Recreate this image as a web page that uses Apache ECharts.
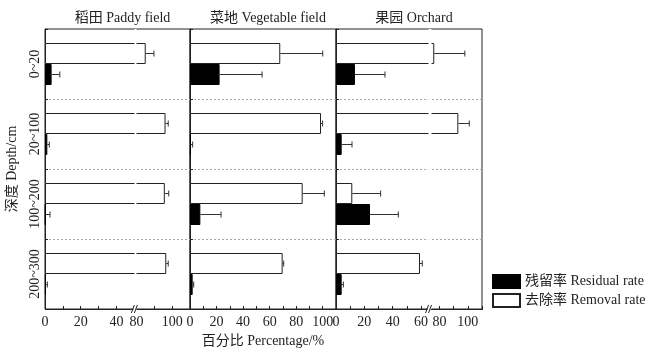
<!DOCTYPE html>
<html>
<head>
<meta charset="utf-8">
<script src="https://cdn.jsdelivr.net/npm/echarts@6/dist/echarts.min.js"></script>
<style>
  html, body { margin: 0; padding: 0; background: #fff; }
  #chart { width: 651px; height: 352px; }
</style>
</head>
<body>
<div id="chart"></div>
<script>
var depths = ['0~20', '20~100', '100~200', '200~300'];
var panelTitles = ['稻田 Paddy field', '菜地 Vegetable field', '果园 Orchard'];

// removal / residual rate (%) and their errors, per depth
var paddyRemoval = [85.2, 96.3, 95.9, 96.7];
var paddyRemovalErr = [4.6, 1.5, 2.2, 1.1];
var paddyResidual = [3.7, 1.3, 0.3, 0.5];
var paddyResidualErr = [4.6, 1.1, 2.5, 0.8];

var vegRemoval = [68.0, 98.7, 84.9, 69.8];
var vegRemovalErr = [32.0, 1.2, 16.3, 0.8];
var vegResidual = [22.3, 0.7, 7.8, 2.0];
var vegResidualErr = [32.0, 1.3, 15.6, 0.8];

var orchRemoval = [76.3, 93.3, 11.5, 59.3];
var orchRemovalErr = [21.6, 7.7, 20.0, 1.6];
var orchResidual = [13.4, 4.0, 24.0, 4.0];
var orchResidualErr = [21.2, 7.3, 20.0, 1.2];

// x axis ticks and labels of each panel
var paddyTicks = [0, 10, 20, 30, 40, 90, 100, 110];
var paddyLabels = [0, 20, 40, 80, 100];
var vegTicks = [0, 10, 20, 30, 40, 50, 60, 70, 80, 90, 100, 110];
var vegLabels = [0, 20, 40, 60, 80, 100];
var orchTicks = [0, 10, 20, 30, 40, 50, 60, 80, 90, 100, 110];
var orchLabels = [0, 20, 40, 60, 80, 100];

var panels = [
  { removal: paddyRemoval, removalErr: paddyRemovalErr, residual: paddyResidual, residualErr: paddyResidualErr,
    brk: { start: 50, end: 80, gap: '1.5%' }, ticks: paddyTicks, labels: paddyLabels },
  { removal: vegRemoval, removalErr: vegRemovalErr, residual: vegResidual, residualErr: vegResidualErr,
    brk: null, ticks: vegTicks, labels: vegLabels },
  { removal: orchRemoval, removalErr: orchRemovalErr, residual: orchResidual, residualErr: orchResidualErr,
    brk: { start: 65, end: 74, gap: '2%' }, ticks: orchTicks, labels: orchLabels }
];

var font = "'Liberation Serif', 'Noto Sans CJK SC', serif";
var ink = '#222';
var barW = 21;
var gridLefts = [45, 190, 336];
var gridWidths = [145, 146, 146];

var myChart = echarts.init(document.getElementById('chart'), null, { renderer: 'canvas' });

var grids = [], xAxes = [], yAxes = [], series = [], titles = [];

panels.forEach(function (p, i) {
  grids.push({
    left: gridLefts[i], width: gridWidths[i], top: 29, height: 280,
    containLabel: false, outerBoundsMode: 'none',
    show: true, borderColor: ink, borderWidth: 1, backgroundColor: 'transparent'
  });
  titles.push({
    text: panelTitles[i],
    left: gridLefts[i] + gridWidths[i] / 2, top: 6, textAlign: 'center',
    textStyle: { fontFamily: font, fontSize: 14, fontWeight: 'normal', color: ink }
  });
  var xa = {
    type: 'value', gridIndex: i, min: 0, max: 110, interval: 10,
    axisLine: { show: true, lineStyle: { color: ink } },
    axisTick: { show: true, inside: true, length: 3, customValues: p.ticks, lineStyle: { color: ink } },
    axisLabel: {
      fontFamily: font, fontSize: 14, color: ink, margin: 6, hideOverlap: false,
      customValues: p.labels
    },
    splitLine: { show: false }
  };
  if (p.brk) {
    xa.breaks = [p.brk];
    xa.breakLabelLayout = { moveOverlap: false };
    xa.breakArea = {
      show: true,
      itemStyle: { color: '#fff', borderColor: 'rgba(0,0,0,0)', borderWidth: 0, opacity: 1 },
      zigzagAmplitude: 0
    };
  }
  if (i === 1) {
    xa.name = '百分比 Percentage/%';
    xa.nameLocation = 'middle';
    xa.nameGap = 22;
    xa.nameTextStyle = { fontFamily: font, fontSize: 14, color: ink };
  }
  xAxes.push(xa);

  var ya = {
    type: 'category', gridIndex: i, data: depths, inverse: true,
    axisLine: { show: true, lineStyle: { color: ink } },
    axisTick: { show: true, inside: true, length: 3, lineStyle: { color: ink } },
    axisLabel: { show: i === 0, rotate: 90, fontFamily: font, fontSize: 14, color: ink, margin: 3 },
    splitLine: {
      show: true,
      interval: function (idx) { return idx > 0 && idx < depths.length; },
      lineStyle: { color: '#aaa', type: [2, 2], width: 1 }
    }
  };
  if (i === 0) {
    ya.name = '深度 Depth/cm';
    ya.nameLocation = 'middle';
    ya.nameGap = 26;
    ya.nameTextStyle = { fontFamily: font, fontSize: 14, color: ink };
  }
  yAxes.push(ya);

  series.push({
    name: '去除率 Removal rate', type: 'bar', xAxisIndex: i, yAxisIndex: i,
    data: p.removal, barWidth: barW, barGap: '0%',
    itemStyle: { color: '#fff', borderColor: ink, borderWidth: 1 }
  });
  series.push({
    name: '残留率 Residual rate', type: 'bar', xAxisIndex: i, yAxisIndex: i,
    data: p.residual, barWidth: barW, barGap: '0%',
    itemStyle: { color: '#000', borderColor: '#000', borderWidth: 1 }
  });

  var errData = [];
  depths.forEach(function (d, k) {
    errData.push([k, p.removal[k], p.removalErr[k], -1]);
    errData.push([k, p.residual[k], p.residualErr[k], 1]);
  });
  series.push({
    type: 'custom', xAxisIndex: i, yAxisIndex: i, data: errData, z: 5, silent: true,
    encode: { x: [1], y: 0 },
    renderItem: function (params, api) {
      var k = api.value(0), v = api.value(1), e = api.value(2), side = api.value(3);
      var a = api.coord([v, k]);
      var b = api.coord([v + e, k]);
      var y = a[1] + side * barW / 2;
      var st = { stroke: '#333', lineWidth: 1 };
      return {
        type: 'group',
        children: [
          { type: 'line', shape: { x1: a[0], y1: y, x2: b[0], y2: y }, style: st },
          { type: 'line', shape: { x1: b[0], y1: y - 3, x2: b[0], y2: y + 3 }, style: st }
        ]
      };
    }
  });

  // "//" marks where the axis is broken
  if (p.brk) {
    series.push({
      type: 'custom', xAxisIndex: i, yAxisIndex: i, z: 300, silent: true, clip: false,
      data: [[p.brk.start, p.brk.end, 0]],
      encode: { x: [0, 1], y: 2 },
      renderItem: function (params, api) {
        var a = api.coord([api.value(0), 0]);
        var b = api.coord([api.value(1), 0]);
        var xm = (a[0] + b[0]) / 2;
        var yb = params.coordSys.y + params.coordSys.height;
        var st = { stroke: ink, lineWidth: 1 };
        return {
          type: 'group',
          children: [
            { type: 'rect', shape: { x: xm - 2, y: yb - 2, width: 3, height: 4 }, style: { fill: '#fff' } },
            { type: 'line', shape: { x1: xm - 4, y1: yb + 4, x2: xm - 1, y2: yb - 4 }, style: st },
            { type: 'line', shape: { x1: xm - 1, y1: yb + 4, x2: xm + 2, y2: yb - 4 }, style: st }
          ]
        };
      }
    });
  }
});

var option = {
  animation: false,
  backgroundColor: '#fff',
  title: titles,
  legend: {
    orient: 'vertical', left: 492, top: 274, itemWidth: 27, itemHeight: 13, itemGap: 4, padding: 0,
    icon: 'rect',
    data: ['残留率 Residual rate', '去除率 Removal rate'],
    textStyle: { fontFamily: font, fontSize: 14, color: ink },
    selectedMode: false
  },
  grid: grids,
  xAxis: xAxes,
  yAxis: yAxes,
  series: series
};

myChart.setOption(option);
</script>
</body>
</html>
